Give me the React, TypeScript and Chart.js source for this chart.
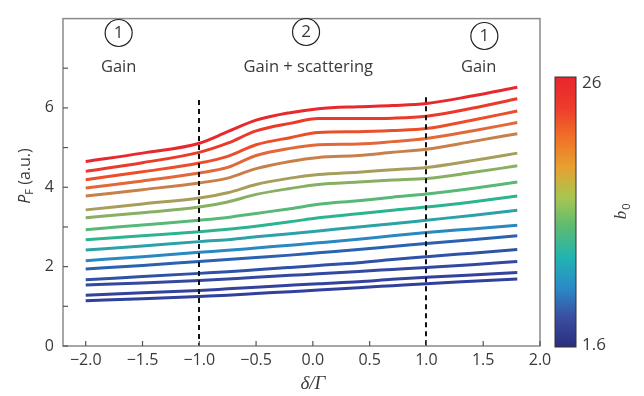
import React, { useEffect, useRef } from "react";
import { Chart, registerables } from "chart.js";

Chart.register(...registerables);

const detuning = [-2, -1.5, -1, -0.75, -0.5, -0.2, 0.05, 0.4, 0.7, 1, 1.4, 1.8];

const c0 = [4.65, 4.86, 5.11, 5.4, 5.69, 5.88, 5.98, 6.03, 6.06, 6.11, 6.3, 6.52];
const c1 = [4.4, 4.62, 4.88, 5.11, 5.42, 5.61, 5.73, 5.73, 5.74, 5.79, 5.99, 6.23];
const c2 = [4.19, 4.39, 4.61, 4.78, 5.07, 5.25, 5.38, 5.4, 5.43, 5.48, 5.69, 5.92];
const c3 = [3.98, 4.16, 4.36, 4.5, 4.8, 4.98, 5.07, 5.09, 5.15, 5.23, 5.42, 5.63];
const c4 = [3.78, 3.94, 4.11, 4.23, 4.47, 4.65, 4.75, 4.8, 4.88, 4.96, 5.15, 5.35];
const c5 = [3.43, 3.58, 3.73, 3.86, 4.07, 4.23, 4.32, 4.38, 4.44, 4.5, 4.67, 4.86];
const c6 = [3.23, 3.36, 3.5, 3.63, 3.82, 3.97, 4.07, 4.13, 4.18, 4.22, 4.37, 4.54];
const c7 = [2.93, 3.05, 3.17, 3.24, 3.34, 3.46, 3.57, 3.66, 3.75, 3.83, 3.97, 4.13];
const c8 = [2.68, 2.78, 2.88, 2.94, 3.02, 3.13, 3.23, 3.33, 3.42, 3.5, 3.63, 3.78];
const c9 = [2.42, 2.52, 2.63, 2.68, 2.75, 2.83, 2.9, 3.0, 3.08, 3.17, 3.29, 3.42];
const c10 = [2.15, 2.25, 2.36, 2.41, 2.47, 2.54, 2.6, 2.69, 2.78, 2.86, 2.95, 3.04];
const c11 = [1.94, 2.03, 2.13, 2.18, 2.23, 2.29, 2.35, 2.43, 2.51, 2.58, 2.68, 2.78];
const c12 = [1.67, 1.75, 1.83, 1.87, 1.92, 1.98, 2.03, 2.1, 2.18, 2.25, 2.34, 2.43];
const c13 = [1.54, 1.59, 1.65, 1.69, 1.73, 1.78, 1.82, 1.88, 1.93, 1.98, 2.05, 2.13];
const c14 = [1.28, 1.34, 1.4, 1.44, 1.48, 1.53, 1.57, 1.62, 1.68, 1.73, 1.79, 1.85];
const c15 = [1.14, 1.19, 1.25, 1.28, 1.32, 1.37, 1.41, 1.47, 1.52, 1.57, 1.63, 1.69];

const curves = [c0, c1, c2, c3, c4, c5, c6, c7, c8, c9, c10, c11, c12, c13, c14, c15];
const curveColors = [
  "#e8282c", "#ea3a2a", "#ec4e2a", "#e2683a", "#c8804a", "#a89e5c", "#88b062", "#58b878",
  "#2cb490", "#2ca2a8", "#2a88c0", "#2a62b0", "#3052a6", "#3448a0", "#34429e", "#30409c",
];

const xTicks = [-2, -1.5, -1, -0.5, 0, 0.5, 1, 1.5, 2];
const yTicks = [0, 2, 4, 6];
const yMinorTicks = [1, 3, 5, 7];
const regionLines = [-1, 1];
const regionLineTops = [6.2, 6.27];
const colorbarMin = "1.6";
const colorbarMax = "26";
const colorbarStops = ["#2b2d7e", "#3a4fa0", "#2a8cc8", "#22b4b0", "#5cba72", "#a8c650", "#e8a030", "#f07028", "#ee3a2c", "#e8262c"];

const FONT = "'Open Sans', 'DejaVu Sans', sans-serif";
const TEXT = "#3a3a3a";
const fmt = (v: number) => (v < 0 ? "\u2212" + Math.abs(v).toFixed(1) : v.toFixed(1));

const decorPlugin = {
  id: "decor",
  afterDatasetsDraw(chart: any) {
    const { ctx, chartArea, scales } = chart;
    const xs = scales.x;
    const ys = scales.y;
    ctx.save();
    // dashed region lines
    ctx.strokeStyle = "#111";
    ctx.lineWidth = 2;
    ctx.setLineDash([5, 4]);
    regionLines.forEach((v, i) => {
      const px = Math.round(xs.getPixelForValue(v));
      ctx.beginPath();
      ctx.moveTo(px, ys.getPixelForValue(regionLineTops[i]));
      ctx.lineTo(px, chartArea.bottom);
      ctx.stroke();
    });
    ctx.setLineDash([]);
    // frame
    ctx.strokeStyle = "#8a8a8a";
    ctx.lineWidth = 1.5;
    ctx.strokeRect(chartArea.left, chartArea.top, chartArea.right - chartArea.left, chartArea.bottom - chartArea.top);
    // inward ticks
    ctx.strokeStyle = "#555";
    ctx.lineWidth = 1.2;
    xTicks.forEach((v) => {
      const px = xs.getPixelForValue(v);
      ctx.beginPath();
      ctx.moveTo(px, chartArea.bottom);
      ctx.lineTo(px, chartArea.bottom - 5);
      ctx.stroke();
    });
    [...yTicks, ...yMinorTicks].forEach((v) => {
      const py = ys.getPixelForValue(v);
      ctx.beginPath();
      ctx.moveTo(chartArea.left, py);
      ctx.lineTo(chartArea.left + 5, py);
      ctx.stroke();
    });
    // annotations
    ctx.fillStyle = TEXT;
    ctx.strokeStyle = "#222";
    ctx.lineWidth = 1.2;
    ctx.textAlign = "center";
    ctx.textBaseline = "middle";
    const circles: [number, number, string][] = [
      [xs.getPixelForValue(-1.71), 33, "1"],
      [xs.getPixelForValue(-0.06), 32, "2"],
      [xs.getPixelForValue(1.51), 36, "1"],
    ];
    circles.forEach(([cx, cy, t]) => {
      ctx.beginPath();
      ctx.arc(cx, cy, 13.5, 0, Math.PI * 2);
      ctx.stroke();
      ctx.font = `17px ${FONT}`;
      ctx.fillText(t, cx, cy + 0.5);
    });
    ctx.font = `16.5px ${FONT}`;
    ctx.fillText("Gain", xs.getPixelForValue(-1.71), 67);
    ctx.fillText("Gain + scattering", xs.getPixelForValue(-0.04), 67);
    ctx.fillText("Gain", xs.getPixelForValue(1.46), 67);

    // colorbar
    const cbX = 555, cbY = 77, cbW = 21, cbH = 270;
    const g = ctx.createLinearGradient(0, cbY + cbH, 0, cbY);
    colorbarStops.forEach((c, i) => g.addColorStop(i / (colorbarStops.length - 1), c));
    ctx.fillStyle = g;
    ctx.fillRect(cbX, cbY, cbW, cbH);
    ctx.strokeStyle = "#333";
    ctx.lineWidth = 1;
    ctx.strokeRect(cbX, cbY, cbW, cbH);
    ctx.fillStyle = TEXT;
    ctx.textAlign = "left";
    ctx.font = `17px ${FONT}`;
    ctx.fillText(colorbarMax, 582, 83);
    ctx.fillText(colorbarMin, 582, 345);
    // colorbar title b0 (rotated)
    ctx.save();
    ctx.translate(622, 212);
    ctx.rotate(-Math.PI / 2);
    ctx.textAlign = "left";
    ctx.font = `italic 17px 'Liberation Serif', serif`;
    const bw = ctx.measureText("b").width;
    ctx.fillText("b", -bw / 2 - 3, 0);
    ctx.font = `11px ${FONT}`;
    ctx.fillText("0", bw / 2 - 2, 5);
    ctx.restore();

    // y axis title
    ctx.save();
    ctx.translate(25, 176);
    ctx.rotate(-Math.PI / 2);
    ctx.textAlign = "left";
    ctx.font = `italic 16px ${FONT}`;
    const pW = ctx.measureText("P").width;
    ctx.font = `11px ${FONT}`;
    const fW = ctx.measureText("F").width;
    ctx.font = `16px ${FONT}`;
    const rest = " (a.u.)";
    const rW = ctx.measureText(rest).width;
    let x0 = -(pW + fW + rW) / 2;
    ctx.font = `italic 16px ${FONT}`;
    ctx.fillText("P", x0, 0);
    x0 += pW;
    ctx.font = `11px ${FONT}`;
    ctx.fillText("F", x0, 5);
    x0 += fW;
    ctx.font = `16px ${FONT}`;
    ctx.fillText(rest, x0, 0);
    ctx.restore();

    // x axis title
    ctx.textAlign = "center";
    ctx.font = `italic 19px 'Liberation Serif', serif`;
    ctx.fillText("\u03b4/\u0393", xs.getPixelForValue(0), 384);
    ctx.restore();
  },
};

export default function App() {
  const ref = useRef<HTMLCanvasElement | null>(null);
  useEffect(() => {
    document.body.style.margin = "0";
    if (!ref.current) return;
    const chart = new Chart(ref.current, {
      type: "line",
      data: {
        datasets: curves.map((c, i) => ({
          data: detuning.map((x, j) => ({ x, y: c[j] })),
          borderColor: curveColors[i],
          borderWidth: 3,
          pointRadius: 0,
          cubicInterpolationMode: "monotone" as const,
          fill: false,
        })),
      },
      options: {
        animation: false,
        responsive: false,
        events: [],
        layout: { padding: { left: 0, top: 16, right: 104, bottom: 0 } },
        plugins: { legend: { display: false }, tooltip: { enabled: false } },
        scales: {
          x: {
            type: "linear",
            min: -2.2,
            max: 2.0,
            afterBuildTicks: (s: any) => {
              s.ticks = xTicks.map((v) => ({ value: v }));
            },
            afterFit: (s: any) => {
              s.height = 50;
            },
            grid: { display: false, drawTicks: false },
            border: { display: false },
            ticks: {
              padding: 5,
              color: TEXT,
              font: { family: FONT, size: 16 },
              callback: (v: any) => fmt(Number(v)),
              maxRotation: 0,
              autoSkip: false,
            },
          },
          y: {
            type: "linear",
            min: 0,
            max: 8.25,
            afterBuildTicks: (s: any) => {
              s.ticks = yTicks.map((v) => ({ value: v }));
            },
            afterFit: (s: any) => {
              s.width = 63;
            },
            grid: { display: false, drawTicks: false },
            border: { display: false },
            ticks: {
              padding: 9,
              color: TEXT,
              font: { family: FONT, size: 16 },
              callback: (v: any) => String(v),
            },
          },
        },
      },
      plugins: [decorPlugin],
    });
    return () => chart.destroy();
  }, []);
  return (
    <div style={{ width: 644, height: 396, background: "#fff" }}>
      <canvas ref={ref} width={644} height={396} style={{ display: "block" }} />
    </div>
  );
}
